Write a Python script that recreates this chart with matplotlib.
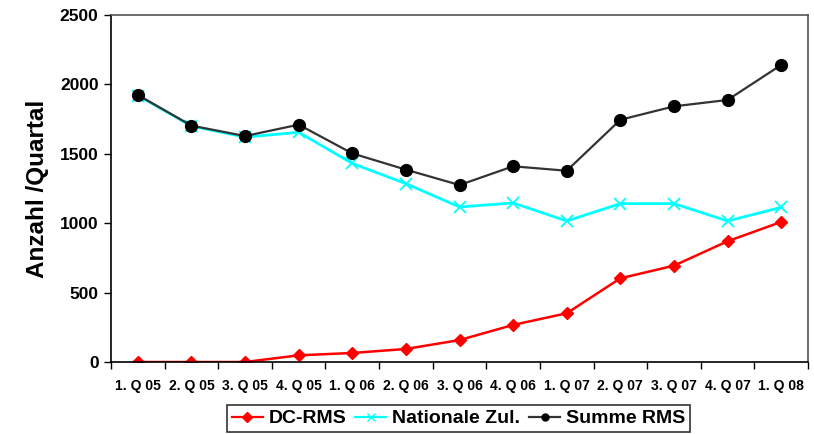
import matplotlib
matplotlib.use("Agg")
import matplotlib.pyplot as plt
from matplotlib import font_manager as fm
from matplotlib.lines import Line2D
import numpy as np

categories = ["1. Q 05", "2. Q 05", "3. Q 05", "4. Q 05", "1. Q 06", "2. Q 06", "3. Q 06",
              "4. Q 06", "1. Q 07", "2. Q 07", "3. Q 07", "4. Q 07", "1. Q 08"]
dc_rms = [0, 0, 0, 48, 65, 94, 158, 267, 351, 603, 694, 870, 1009]
nationale = [1920, 1700, 1620, 1655, 1431, 1285, 1117, 1146, 1016, 1141, 1141, 1016, 1114]
summe = [1924, 1703, 1628, 1710, 1503, 1386, 1275, 1410, 1378, 1745, 1842, 1888, 2140]
yticks = [0, 500, 1000, 1500, 2000, 2500]
series_names = ["DC-RMS", "Nationale Zul.", "Summe RMS"]

names = {f.name for f in fm.fontManager.ttflist}
narrow = "Liberation Sans Narrow" if "Liberation Sans Narrow" in names else "Liberation Sans"
plt.rcParams['font.family'] = ['Liberation Sans', 'DejaVu Sans']

fig = plt.figure(figsize=(8.14, 4.34), dpi=100)
ax = fig.add_axes([0.1364, 0.1659, 0.8562, 0.7995])
x = np.arange(len(categories))

ax.plot(x, dc_rms, color='#ff0000', lw=1.8, marker='D', ms=6.5, mec='#ff0000', mfc='#ff0000')
ax.plot(x, nationale, color='#00ffff', lw=2.0, marker='x', ms=9, mew=1.3, mec='#00ffff')
ax.plot(x, summe, color='#333333', lw=1.6, marker='o', ms=8.5, mec='black', mfc='black')

ax.set_xlim(-0.5, len(categories) - 0.5)
ax.set_ylim(0, 2500)
ax.set_yticks(yticks)
ax.set_yticklabels([str(v) for v in yticks], fontsize=12.5, fontweight='bold')
ax.set_xticks(np.arange(-0.5, len(categories)), minor=False)
ax.set_xticklabels([])
ax.set_xticks(x, minor=True)
ax.set_xticklabels(categories, minor=True, fontsize=10, fontweight='bold', family=[narrow, 'DejaVu Sans'])
ax.tick_params(axis='x', which='major', direction='out', length=5, width=1, color='black')
ax.tick_params(axis='x', which='minor', length=0, pad=12)
ax.tick_params(axis='y', direction='out', length=5, width=1, pad=4)

for s in ['left', 'bottom']:
    ax.spines[s].set_color('black')
    ax.spines[s].set_linewidth(1.2)
for s in ['top', 'right']:
    ax.spines[s].set_color('#555555')
    ax.spines[s].set_linewidth(1.2)

ax.set_ylabel("Anzahl /Quartal", fontsize=17.5, fontweight='bold', labelpad=8)

handles = [
    Line2D([], [], color='#ff0000', lw=1.6, marker='D', ms=5, mec='#ff0000', mfc='#ff0000'),
    Line2D([], [], color='#00ffff', lw=1.6, marker='x', ms=6, mew=1.0, mec='#00ffff'),
    Line2D([], [], color='#333333', lw=1.6, marker='o', ms=5, mec='black', mfc='black'),
]
leg = fig.legend(handles, series_names,
                 loc='upper center', bbox_to_anchor=(0.5633, 0.0668), ncol=3,
                 prop={'weight': 'bold', 'size': 14}, frameon=True, fancybox=False,
                 edgecolor='black', handlelength=1.6, handletextpad=0.3, columnspacing=0.45,
                 borderpad=0.25, borderaxespad=0)
leg.get_frame().set_linewidth(1.2)

fig.savefig("out.png", dpi=100)
